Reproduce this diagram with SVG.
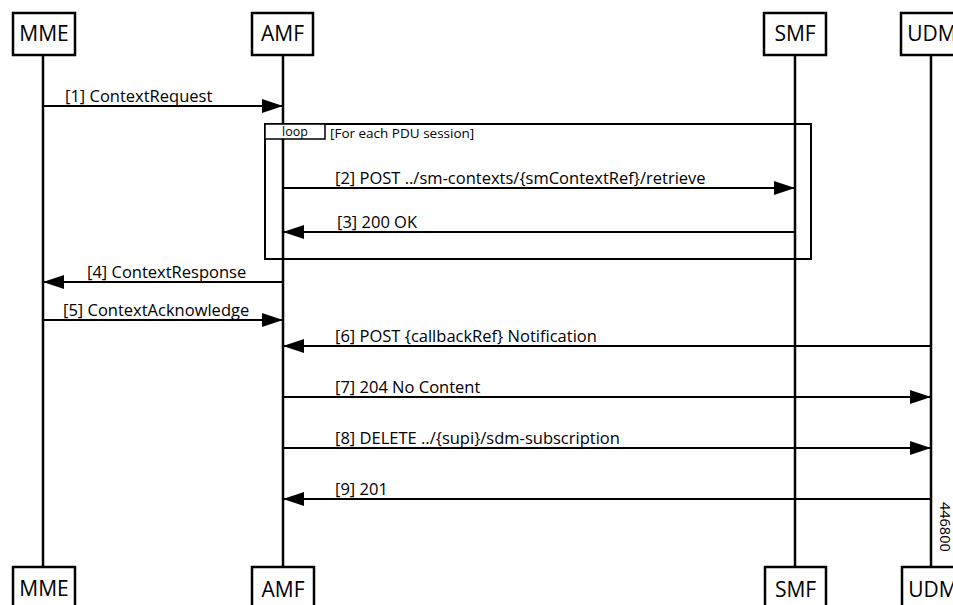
<svg xmlns="http://www.w3.org/2000/svg" width="953" height="605" viewBox="0 0 953 605">
<style>
.box{fill:#fff;stroke:#000;stroke-width:2.5}
.life{stroke:#000;stroke-width:2.5}
.pt{font-family:"Open Sans","Liberation Sans",sans-serif;font-size:21px;fill:#000;text-anchor:middle}
.msg{stroke:#000;stroke-width:2;fill:none}
.lbl{font-family:"Open Sans","Liberation Sans",sans-serif;font-size:16.5px;fill:#000}
.sm{font-family:"Open Sans","Liberation Sans",sans-serif;font-size:13.5px;fill:#000}
</style>
<defs>
<marker id="ah" markerUnits="userSpaceOnUse" markerWidth="22" markerHeight="16" refX="21" refY="7" orient="auto">
<path d="M0,0 L21,7 L0,14 Z" fill="#000"/>
</marker>
</defs>
<g id="lifelines">
<line class="life" x1="43" y1="55" x2="43" y2="567"/>
<line class="life" x1="283" y1="55" x2="283" y2="567"/>
<line class="life" x1="795" y1="55" x2="795" y2="567"/>
<line class="life" x1="931" y1="55" x2="931" y2="567"/>
</g>
<g id="loop">
<rect x="265" y="124" width="546" height="135" fill="none" stroke="#000" stroke-width="2"/>
<rect x="265" y="124" width="60" height="15" fill="#fff" stroke="#000" stroke-width="1.5"/>
<text class="sm" style="font-size:12.5px" x="282" y="136">loop</text>
<text class="sm" x="330" y="137.5">[For each PDU session]</text>
</g>
<g id="MME-top"><rect class="box" x="13" y="13" width="62" height="42"/><text class="pt" x="44" y="41">MME</text></g>
<g id="AMF-top"><rect class="box" x="252" y="13" width="61" height="42"/><text class="pt" x="282.5" y="41">AMF</text></g>
<g id="SMF-top"><rect class="box" x="764" y="13" width="62" height="42"/><text class="pt" x="795" y="41">SMF</text></g>
<g id="UDM-top"><rect class="box" x="901" y="13" width="62" height="42"/><text class="pt" x="932" y="41">UDM</text></g>
<g id="MME-bottom"><rect class="box" x="13" y="567" width="62" height="42"/><text class="pt" x="44" y="596">MME</text></g>
<g id="AMF-bottom"><rect class="box" x="252" y="567" width="62" height="42"/><text class="pt" x="283" y="597">AMF</text></g>
<g id="SMF-bottom"><rect class="box" x="765" y="567" width="61" height="42"/><text class="pt" x="795.5" y="597">SMF</text></g>
<g id="UDM-bottom"><rect class="box" x="902" y="567" width="62" height="42"/><text class="pt" x="933" y="597">UDM</text></g>
<g id="connectors">
<line class="msg" x1="43" y1="106" x2="283" y2="106" marker-end="url(#ah)"/>
<line class="msg" x1="283" y1="188" x2="795" y2="188" marker-end="url(#ah)"/>
<line class="msg" x1="795" y1="232" x2="283" y2="232" marker-end="url(#ah)"/>
<line class="msg" x1="283" y1="282" x2="43" y2="282" marker-end="url(#ah)"/>
<line class="msg" x1="43" y1="320" x2="283" y2="320" marker-end="url(#ah)"/>
<line class="msg" x1="931" y1="346" x2="283" y2="346" marker-end="url(#ah)"/>
<line class="msg" x1="283" y1="397" x2="931" y2="397" marker-end="url(#ah)"/>
<line class="msg" x1="283" y1="448" x2="931" y2="448" marker-end="url(#ah)"/>
<line class="msg" x1="931" y1="499" x2="283" y2="499" marker-end="url(#ah)"/>
</g>
<g id="labels">
<text class="lbl" x="65" y="101.5">[1] ContextRequest</text>
<text class="lbl" x="335" y="183.5">[2] POST ../sm-contexts/{smContextRef}/retrieve</text>
<text class="lbl" x="337" y="227.5">[3] 200 OK</text>
<text class="lbl" x="87" y="277.5">[4] ContextResponse</text>
<text class="lbl" x="63" y="315.5">[5] ContextAcknowledge</text>
<text class="lbl" x="335" y="341.5">[6] POST {callbackRef} Notification</text>
<text class="lbl" x="335" y="392.5">[7] 204 No Content</text>
<text class="lbl" x="335" y="443.5">[8] DELETE ../{supi}/sdm-subscription</text>
<text class="lbl" x="335" y="494.5">[9] 201</text>
<text class="sm" style="font-size:14.5px" transform="translate(940,502) rotate(90)">446800</text>
</g>
</svg>
